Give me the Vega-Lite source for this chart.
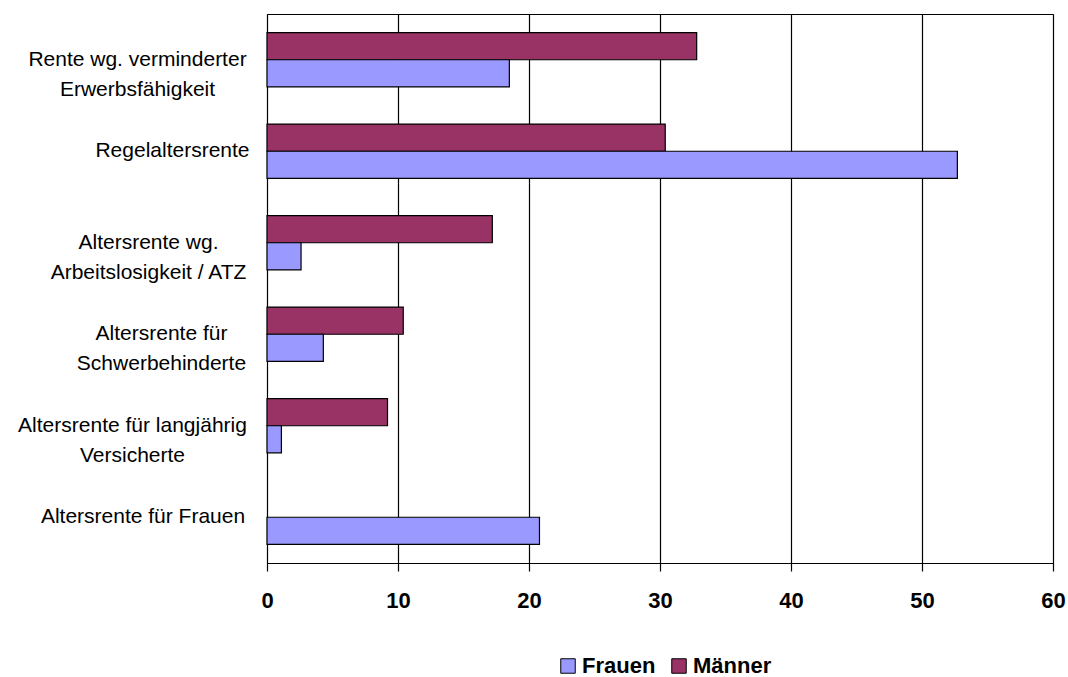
{
  "$schema": "https://vega.github.io/schema/vega-lite/v6.json",
  "width": 786,
  "height": 549,
  "autosize": {"type": "none"},
  "padding": {"left": 267, "top": 14, "right": 15, "bottom": 114},
  "background": "white",
  "config": {
    "font": "Liberation Sans",
    "view": {"stroke": "black", "strokeWidth": 1}
  },
  "data": {
    "values": [
      {"Rentenart": "Rente wg. verminderter\nErwerbsfähigkeit", "Geschlecht": "Männer", "Anteil": 32.8},
      {"Rentenart": "Rente wg. verminderter\nErwerbsfähigkeit", "Geschlecht": "Frauen", "Anteil": 18.5},
      {"Rentenart": "Regelaltersrente", "Geschlecht": "Männer", "Anteil": 30.4},
      {"Rentenart": "Regelaltersrente", "Geschlecht": "Frauen", "Anteil": 52.7},
      {"Rentenart": "Altersrente wg.\nArbeitslosigkeit / ATZ", "Geschlecht": "Männer", "Anteil": 17.2},
      {"Rentenart": "Altersrente wg.\nArbeitslosigkeit / ATZ", "Geschlecht": "Frauen", "Anteil": 2.6},
      {"Rentenart": "Altersrente für\nSchwerbehinderte", "Geschlecht": "Männer", "Anteil": 10.4},
      {"Rentenart": "Altersrente für\nSchwerbehinderte", "Geschlecht": "Frauen", "Anteil": 4.3},
      {"Rentenart": "Altersrente für langjährig\nVersicherte", "Geschlecht": "Männer", "Anteil": 9.2},
      {"Rentenart": "Altersrente für langjährig\nVersicherte", "Geschlecht": "Frauen", "Anteil": 1.1},
      {"Rentenart": "Altersrente für Frauen", "Geschlecht": "Frauen", "Anteil": 20.8}
    ]
  },
  "mark": {"type": "bar", "stroke": "black", "strokeWidth": 1.2},
  "encoding": {
    "y": {
      "field": "Rentenart",
      "type": "nominal",
      "sort": [
        "Rente wg. verminderter\nErwerbsfähigkeit",
        "Regelaltersrente",
        "Altersrente wg.\nArbeitslosigkeit / ATZ",
        "Altersrente für\nSchwerbehinderte",
        "Altersrente für langjährig\nVersicherte",
        "Altersrente für Frauen"
      ],
      "scale": {"paddingInner": 0.407, "paddingOuter": 0.2035},
      "axis": {
        "title": null,
        "ticks": false,
        "tickSize": 0,
        "grid": false,
        "domainColor": "black",
        "domainWidth": 1,
        "labelFont": "Liberation Sans",
        "labelFontSize": 21,
        "labelColor": "black",
        "labelAlign": "center",
        "labelBaseline": "middle",
        "labelLineHeight": 30,
        "labelLimit": 0,
        "labelExpr": "split(datum.label, '\\n')",
        "labelPadding": {
          "condition": [
            {"test": "datum.value === 'Rente wg. verminderter\\nErwerbsfähigkeit'", "value": 130},
            {"test": "datum.value === 'Regelaltersrente'", "value": 95},
            {"test": "datum.value === 'Altersrente wg.\\nArbeitslosigkeit / ATZ'", "value": 119},
            {"test": "datum.value === 'Altersrente für\\nSchwerbehinderte'", "value": 106},
            {"test": "datum.value === 'Altersrente für langjährig\\nVersicherte'", "value": 135}
          ],
          "value": 124.5
        }
      }
    },
    "yOffset": {
      "field": "Geschlecht",
      "type": "nominal",
      "sort": ["Männer", "Frauen"],
      "scale": {"domain": ["Männer", "Frauen"], "paddingInner": 0, "paddingOuter": 0}
    },
    "x": {
      "field": "Anteil",
      "type": "quantitative",
      "scale": {"domain": [0, 60], "nice": false},
      "axis": {
        "title": null,
        "values": [0, 10, 20, 30, 40, 50, 60],
        "grid": true,
        "gridColor": "black",
        "gridOpacity": 1,
        "gridWidth": 1.2,
        "domainColor": "black",
        "domainWidth": 1.2,
        "tickColor": "black",
        "tickSize": 8,
        "tickWidth": 1.2,
        "labelFlush": false,
        "labelFont": "Liberation Sans",
        "labelFontSize": 22,
        "labelFontWeight": "bold",
        "labelColor": "black",
        "labelPadding": 19
      }
    },
    "color": {
      "field": "Geschlecht",
      "type": "nominal",
      "scale": {"domain": ["Frauen", "Männer"], "range": ["#9999FF", "#993366"]},
      "legend": {
        "title": null,
        "orient": "none",
        "legendX": 290,
        "legendY": 641,
        "direction": "horizontal",
        "padding": 0,
        "symbolType": "square",
        "symbolSize": 210,
        "symbolStrokeColor": "black",
        "symbolStrokeWidth": 1,
        "symbolOpacity": 1,
        "labelFont": "Liberation Sans",
        "labelFontSize": 22,
        "labelFontWeight": "bold",
        "labelColor": "black",
        "labelOffset": 3,
        "columnPadding": 12
      }
    }
  }
}
